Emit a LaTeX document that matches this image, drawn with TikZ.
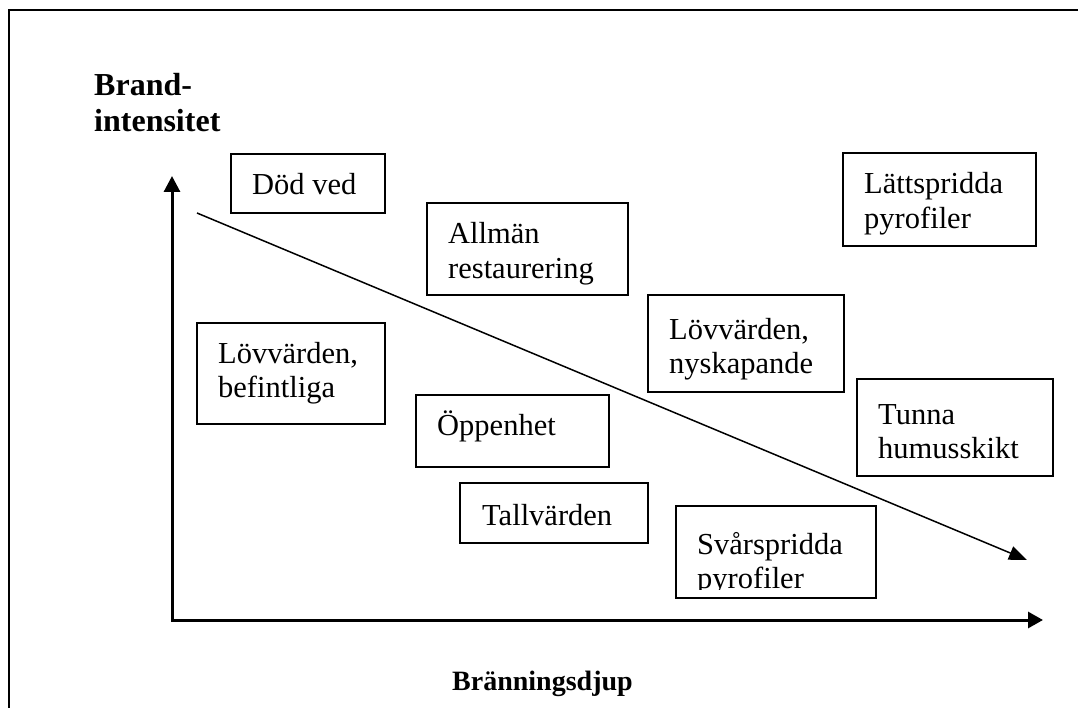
\documentclass[tikz,border=0pt]{standalone}
\usepackage{fontspec}
\setmainfont{Liberation Serif}
\usetikzlibrary{arrows.meta}

\tikzset{
  ruta/.style={draw, line width=1.3pt, inner sep=0pt},
  tekst/.style={anchor=base west, align=left, inner sep=0pt,
    font=\fontsize{30.5}{34.5}\selectfont},
  rubrik/.style={anchor=base west, align=left, inner sep=0pt,
    font=\bfseries\fontsize{32}{36}\selectfont},
  axel/.style={line width=3pt, line join=miter,
    {Triangle[length=16pt,width=16pt]}-{Triangle[length=15pt,width=16pt]}},
  trend/.style={line width=1.5pt, -{Triangle[length=18pt,width=14pt]}},
}

\begin{document}
\begin{tikzpicture}[x=1pt,y=-1pt]
\useasboundingbox (0,0) rectangle (1078,708);
% ram
\draw[line width=1.3pt] (9,708) -- (9,10) -- (1078,10);

% axlar
\coordinate (origo) at (172,620);
\coordinate (ytopp) at (172,176);
\coordinate (xslut) at (1043,620);
\draw[axel] (ytopp) -- (origo) -- (xslut);
% flerradiga noder: base = sista radens baslinje
\node[rubrik] (yrubrik) at (94,132) {Brand-\\intensitet};
\node[rubrik, font=\bfseries\fontsize{28}{32}\selectfont] (xrubrik) at (452,690) {Bränningsdjup};

% trendpil
\coordinate (trendstart) at (197,213);
\coordinate (trendslut) at (1027,560);
\draw[trend] (trendstart) -- (trendslut);

% rutor
\node[ruta, minimum width=154pt, minimum height=59pt] (dodved) at (308,183.5) {};
\node[tekst] (dodvedtxt) at (252,195) {Död ved};

\node[ruta, minimum width=201pt, minimum height=92pt] (allman) at (527.5,249) {};
\node[tekst] (allmantxt) at (448,278.5) {Allmän\\restaurering};

\node[ruta, minimum width=193pt, minimum height=93pt] (latt) at (939.5,199.5) {};
\node[tekst] (latttxt) at (864,228.5) {Lättspridda\\pyrofiler};

\node[ruta, minimum width=188pt, minimum height=101pt] (lovbef) at (291,373.5) {};
\node[tekst] (lovbeftxt) at (218,397.5) {Lövvärden,\\befintliga};

\node[ruta, minimum width=196pt, minimum height=97pt] (lovny) at (746,343.5) {};
\node[tekst] (lovnytxt) at (669,373.5) {Lövvärden,\\nyskapande};

\node[ruta, minimum width=193pt, minimum height=72pt] (oppen) at (512.5,431) {};
\node[tekst] (oppentxt) at (437,435) {Öppenhet};

\node[ruta, minimum width=196pt, minimum height=97pt] (tunna) at (955,427.5) {};
\node[tekst] (tunnatxt) at (878,458.5) {Tunna\\humusskikt};

\node[ruta, minimum width=188pt, minimum height=60pt] (tall) at (554,513) {};
\node[tekst] (talltxt) at (482,525) {Tallvärden};

\node[ruta, minimum width=200pt, minimum height=92pt] (svar) at (776,552) {};
\begin{scope}
  \clip (676,506) rectangle (876,589);
  \node[tekst] (svartxt) at (697,588.5) {Svårspridda\\pyrofiler};
\end{scope}
\end{tikzpicture}
\end{document}
